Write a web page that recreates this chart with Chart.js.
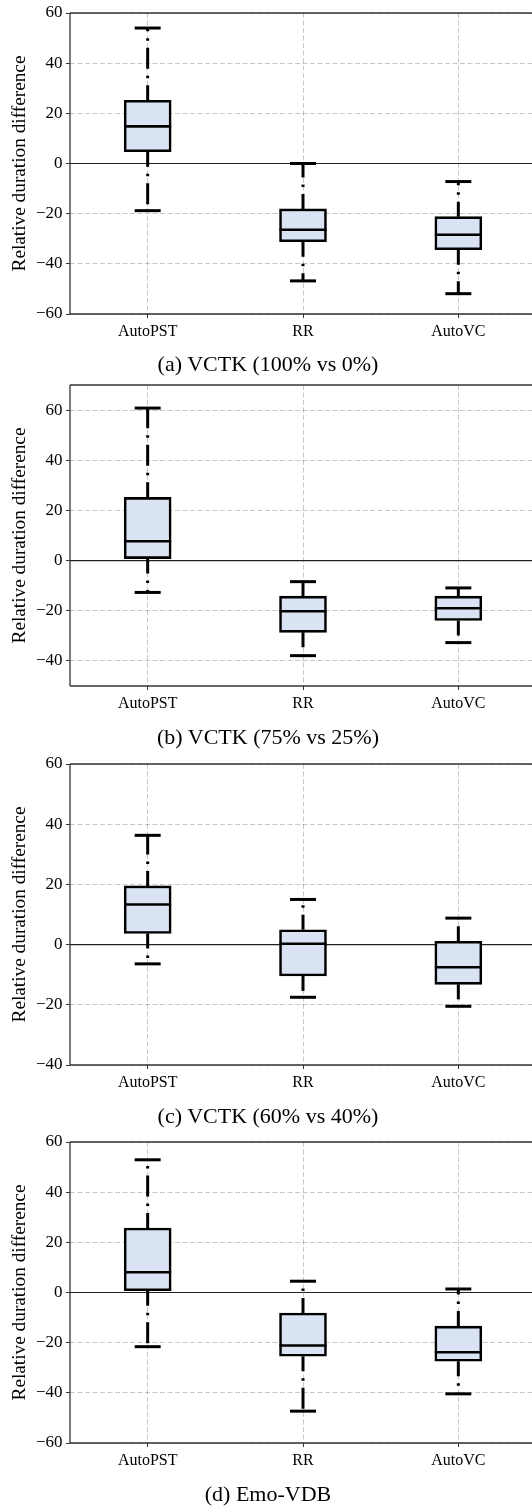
<!DOCTYPE html>
<html>
<head>
<meta charset="utf-8">
<script src="https://cdn.jsdelivr.net/npm/chart.js@4.4.1/dist/chart.umd.min.js"></script>
<style>
  html, body { margin: 0; padding: 0; background: #fff; overflow: hidden; }
  body { width: 532px; height: 1507px; position: relative; }
  .panel { position: absolute; left: 0; }
  .caption {
    position: absolute; left: 0; width: 536px; text-align: center;
    font-family: 'Liberation Serif', 'Times New Roman', serif;
    font-size: 22px; line-height: 26px; color: #000; white-space: nowrap;
  }
</style>
</head>
<body>
<div id="figure"></div>
<script>
// ---- DATA ----
const categories = ['AutoPST', 'RR', 'AutoVC'];
const captions = ['(a) VCTK (100% vs 0%)', '(b) VCTK (75% vs 25%)', '(c) VCTK (60% vs 40%)', '(d) Emo-VDB'];
const yLabel = 'Relative duration difference';
const yMins = [-60, -50, -40, -60];
const yMaxs = [60, 70, 60, 60];
const yStep = 20;

// one row per panel, one value per category
const whiskerLow  = [[-18.8, -46.8, -51.9], [-12.7, -37.9, -32.7], [-6.4, -17.5, -20.5], [-21.6, -47.3, -40.4]];
const quartile1   = [[4.7, -31.2, -34.4],   [0.8, -28.6, -23.9],   [3.7, -10.4, -13.2], [0.7, -25.4, -27.4]];
const medians     = [[14.8, -26.4, -28.4],  [7.7, -20.2, -19.0],   [13.3, 0.3, -7.5],   [8.1, -21.1, -23.8]];
const quartile3   = [[25.2, -18.1, -21.2],  [25.2, -14.2, -14.2],  [19.5, 4.9, 1.1],    [25.7, -8.2, -13.4]];
const whiskerHigh = [[54.0, 0.0, -7.2],     [60.8, -8.4, -10.9],   [36.3, 15.0, 8.8],   [52.9, 4.5, 1.4]];

// ---- LAYOUT ----
const panelTops = [13, 385, 764, 1142];
const plotHeight = 301;
const captionCenters = [365.5, 738.5, 1117.5, 1495.5];
const padTop = 14;
const xAxisHeight = 40;
const yAxisWidth = 70;
const canvasWidth = 536;

const serif = "'Liberation Serif', 'Times New Roman', serif";
const gridColor = 'rgba(0,0,0,0.22)';
const boxFill = '#dae3f3';
const boxHalf = 23.5;
const capHalf = 13;

// ---- WHISKERS, CAPS, MEDIANS, SPINES ----
const boxPlotPlugin = {
  id: 'boxPlot',
  beforeDatasetsDraw(chart) {
    const { ctx, chartArea: a, scales: { y } } = chart;
    const y0 = y.getPixelForValue(0);
    ctx.save();
    ctx.strokeStyle = '#222';
    ctx.lineWidth = 1.1;
    ctx.beginPath();
    ctx.moveTo(a.left, y0);
    ctx.lineTo(a.right, y0);
    ctx.stroke();
    ctx.restore();
  },
  afterDatasetsDraw(chart, args, opts) {
    const { ctx, chartArea: a, scales: { x, y } } = chart;
    const p = opts.panel;
    const line = (x1, y1, x2, y2) => {
      ctx.beginPath();
      ctx.moveTo(x1, y1);
      ctx.lineTo(x2, y2);
      ctx.stroke();
    };
    ctx.save();
    ctx.strokeStyle = '#000';
    ctx.lineCap = 'butt';
    categories.forEach((c, i) => {
      const cx = x.getPixelForValue(i);
      const yLo = y.getPixelForValue(whiskerLow[p][i]);
      const yQ1 = y.getPixelForValue(quartile1[p][i]);
      const yMed = y.getPixelForValue(medians[p][i]);
      const yQ3 = y.getPixelForValue(quartile3[p][i]);
      const yHi = y.getPixelForValue(whiskerHigh[p][i]);

      // dash-dot whiskers
      ctx.lineWidth = 3;
      ctx.setLineDash([21, 7, 2.5, 7]);
      ctx.lineDashOffset = 6;
      line(cx, yQ3, cx, yHi);
      line(cx, yQ1, cx, yLo);
      ctx.setLineDash([]);

      // caps
      line(cx - capHalf, yHi, cx + capHalf, yHi);
      line(cx - capHalf, yLo, cx + capHalf, yLo);

      // median
      ctx.lineWidth = 2.6;
      line(cx - boxHalf, yMed, cx + boxHalf, yMed);
    });

    // spines
    ctx.strokeStyle = '#333';
    ctx.lineWidth = 1.3;
    line(a.left, a.bottom, a.left, a.top);
    line(a.left, a.top, a.right, a.top);
    line(a.left, a.bottom, a.right, a.bottom);
    ctx.restore();
  }
};

function tickLabel(v) {
  return v < 0 ? '\u2212' + Math.abs(v) : String(v);
}

function buildPanel(p) {
  const fig = document.getElementById('figure');

  const canvas = document.createElement('canvas');
  canvas.className = 'panel';
  canvas.width = canvasWidth;
  canvas.height = padTop + plotHeight + xAxisHeight;
  canvas.style.top = (panelTops[p] - padTop) + 'px';
  fig.appendChild(canvas);

  const cap = document.createElement('div');
  cap.className = 'caption';
  cap.textContent = captions[p];
  cap.style.top = (captionCenters[p] - 15) + 'px';
  fig.appendChild(cap);

  new Chart(canvas, {
    type: 'bar',
    data: {
      labels: categories,
      datasets: [{
        data: categories.map((c, i) => [quartile1[p][i], quartile3[p][i]]),
        backgroundColor: boxFill,
        borderColor: '#000',
        borderWidth: 2.6,
        borderSkipped: false,
        barThickness: boxHalf * 2
      }]
    },
    options: {
      responsive: false,
      animation: false,
      events: [],
      layout: { padding: { top: padTop, left: 0, right: 0, bottom: 0 } },
      plugins: {
        legend: { display: false },
        tooltip: { enabled: false },
        boxPlot: { panel: p }
      },
      scales: {
        x: {
          offset: true,
          grid: {
            offset: false,
            color: gridColor,
            lineWidth: 1,
            borderDash: [5, 2.5],
            tickLength: 4,
            tickColor: '#333',
            tickWidth: 1,
            tickBorderDash: []
          },
          border: { display: false, dash: [5, 2.5] },
          ticks: {
            color: '#000',
            font: { family: serif, size: 16 },
            padding: 4,
            maxRotation: 0,
            autoSkip: false
          },
          afterFit(scale) { scale.height = xAxisHeight; }
        },
        y: {
          min: yMins[p],
          max: yMaxs[p],
          grid: {
            color: gridColor,
            lineWidth: 1,
            borderDash: [5, 2.5],
            tickLength: 4,
            tickColor: '#333',
            tickWidth: 1,
            tickBorderDash: []
          },
          border: { display: false, dash: [5, 2.5] },
          ticks: {
            stepSize: yStep,
            color: '#000',
            font: { family: serif, size: 17 },
            padding: 3.5,
            callback: tickLabel
          },
          afterBuildTicks(scale) {
            // ticks on multiples of the step only, as in the figure
            const ticks = [];
            for (let v = Math.ceil(scale.min / yStep) * yStep; v <= scale.max; v += yStep) {
              ticks.push({ value: v });
            }
            scale.ticks = ticks;
          },
          title: {
            display: true,
            text: yLabel,
            color: '#000',
            font: { family: serif, size: 19.3 },
            padding: { top: 8.6, bottom: 0 }
          },
          afterFit(scale) { scale.width = yAxisWidth; }
        }
      }
    },
    plugins: [boxPlotPlugin]
  });
}

document.addEventListener('DOMContentLoaded', () => {
  for (let p = 0; p < captions.length; p++) buildPanel(p);
});
</script>
</body>
</html>
